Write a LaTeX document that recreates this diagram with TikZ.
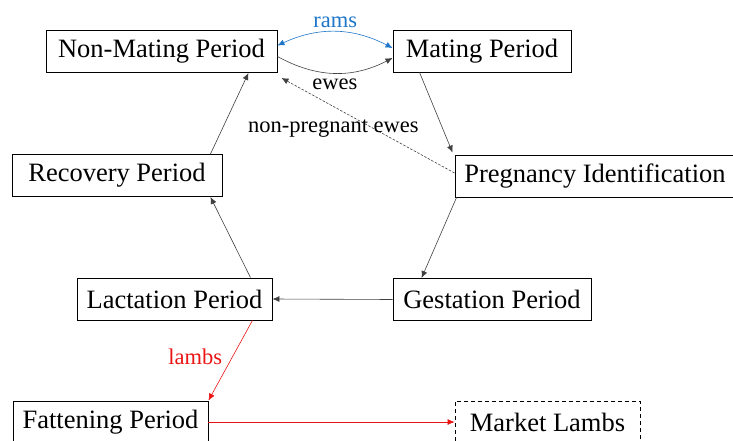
\documentclass[tikz,border=0pt]{standalone}
\usepackage{fontspec}
\setmainfont{Liberation Serif}
\usetikzlibrary{arrows.meta,calc}

\definecolor{ramblue}{RGB}{30,118,200}
\definecolor{lambred}{RGB}{235,20,20}

\begin{document}
\begin{tikzpicture}[x=1pt,y=-1pt,
    period/.style={draw, line width=0.9pt, minimum height=42pt, inner xsep=0pt,
        font=\fontsize{26.5}{30}\selectfont},
    flow/.style={line width=0.6pt, black!75, -{Latex[length=7pt,width=6pt]}},
    lbl/.style={font=\fontsize{22.5}{26}\selectfont}]
        % Frame of the picture
        \useasboundingbox (0,0) rectangle (733,441);
        \clip (0,0) rectangle (733,441);

        % Define nodes
        \node[period, minimum width=231pt] (nonmating) at (161.5,51.5) {Non-Mating Period};
        \node[period, minimum width=178pt] (mating) at (482,51) {Mating Period};
        \node[period, minimum width=280pt] (pregid) at (595,176) {Pregnancy Identification};
        \node[period, minimum width=210pt] (recovery) at (117,175.5) {Recovery Period};
        \node[period, minimum width=198pt] (gestation) at (492,299.5) {Gestation Period};
        \node[period, minimum width=195pt] (lactation) at (174.5,299) {Lactation Period};
        \node[period, minimum width=195pt] (fattening) at (110.5,422) {Fattening Period};
        \node[period, dashed, dash pattern=on 4pt off 3pt, minimum width=185pt] (market) at (547.5,422) {Market Lambs};

        % Draw the cycle
        \draw[flow, ramblue, {Latex[length=7pt,width=6pt]}-{Latex[length=7pt,width=6pt]}]
            ([yshift=6pt]nonmating.east) to[bend left=26] node[lbl, above=1pt, text=ramblue] {rams} ([yshift=3pt]mating.west);
        \draw[flow] ([yshift=-5pt]nonmating.east) to[bend right=28] node[lbl, below=2pt, text=black] {ewes} ([yshift=-7pt]mating.west);
        \draw[flow] ($(mating.south west)+(27,0)$) -- ($(pregid.north west)+(-2,-2)$);
        \draw[flow] ($(pregid.south west)+(2,0)$) -- ($(gestation.north west)+(29,0)$);
        \draw[flow] (gestation.west) -- (lactation.east);
        \draw[flow] ($(lactation.north east)+(-22,0)$) -- ($(recovery.south east)+(-12,0)$);
        \draw[flow] ($(recovery.north east)+(-12,0)$) -- ($(nonmating.south east)+(-29,0)$);
        \draw[flow, dashed, dash pattern=on 2.5pt off 1.5pt] ($(pregid.west)+(0,-3)$) -- ($(nonmating.south east)+(4,5)$)
            node[lbl, pos=0.70, yshift=-22pt, text=black] {non-pregnant ewes};

        % Draw the lambs
        \draw[flow, lambred] ($(lactation.south east)+(-20,0)$) -- (fattening.north east)
            node[lbl, pos=0.45, left=7pt, text=lambred] {lambs};
        \draw[flow, lambred] (fattening.east) -- (market.west);
    \end{tikzpicture}
\end{document}
